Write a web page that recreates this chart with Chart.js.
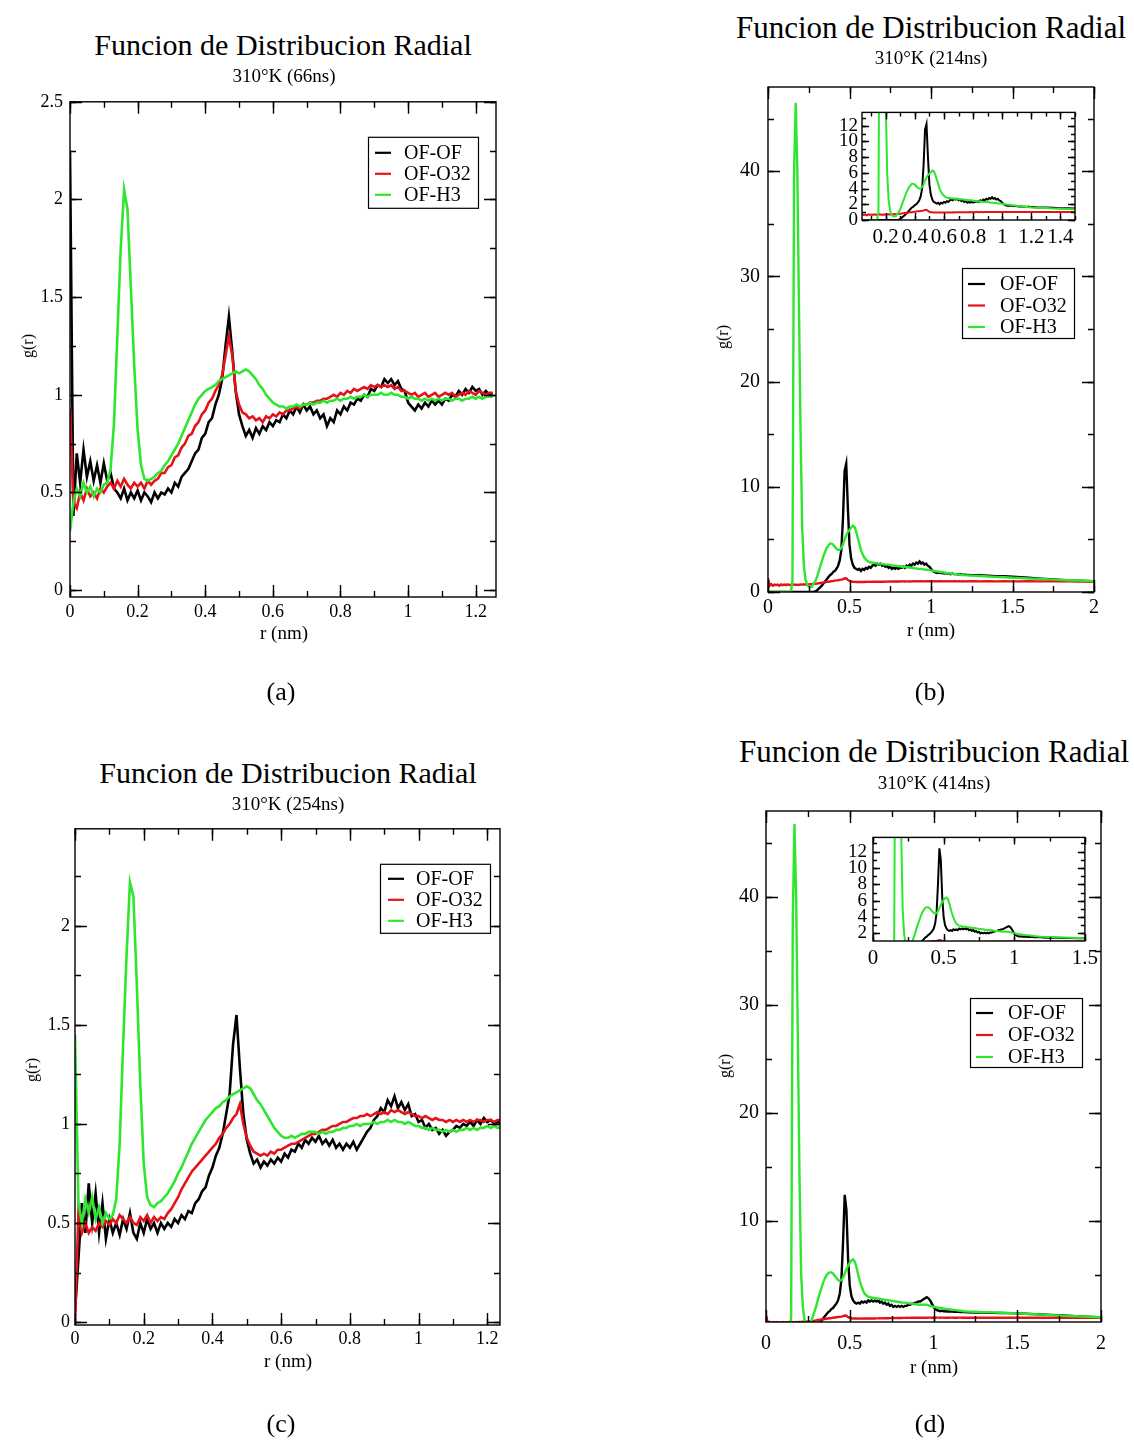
<!DOCTYPE html>
<html>
<head>
<meta charset="utf-8">
<script src="https://cdn.jsdelivr.net/npm/chart.js@4.4.1/dist/chart.umd.min.js"></script>
<style>
  body { margin:0; background:#fff; width:1134px; height:1441px; position:relative; overflow:hidden;
         font-family:"Liberation Serif","Times New Roman",serif; color:#000; }
  canvas { position:absolute; }
  .t { position:absolute; transform:translate(-50%,-50%); white-space:nowrap; line-height:1; }
  .v { transform:translate(-50%,-50%) rotate(-90deg); }
</style>
</head>
<body>
<script>
// ---- data ----
const SERIES = ["OF-OF", "OF-O32", "OF-H3"];

// r grid of panels (a) and (c): 0 .. 1.25 nm every 0.01
const R_AC = [];
for (let i = 0; i <= 125; i++) R_AC.push(i / 100);
// r grid of panels (b) and (d): 0 .. 1.2 every 0.01, then to 2.0 every 0.05
const R_BD = [];
for (let i = 0; i <= 120; i++) R_BD.push(i / 100);
for (let i = 1; i <= 16; i++) R_BD.push(+(1.2 + i * 0.05).toFixed(2));

// (a) 310K, 66 ns
const A_OFOF = [
  2.25,0.38,0.70,0.55,0.72,0.58,0.66,0.56,0.64,0.55,
  0.65,0.56,0.60,0.52,0.50,0.47,0.52,0.46,0.50,0.47,
  0.51,0.46,0.50,0.48,0.45,0.50,0.47,0.50,0.49,0.52,
  0.50,0.55,0.53,0.58,0.60,0.62,0.66,0.70,0.72,0.78,
  0.80,0.86,0.88,0.95,1.00,1.08,1.25,1.40,1.22,1.02,
  0.90,0.84,0.79,0.82,0.78,0.83,0.80,0.84,0.82,0.86,
  0.84,0.87,0.86,0.90,0.88,0.92,0.90,0.94,0.91,0.95,
  0.92,0.94,0.90,0.92,0.88,0.90,0.84,0.88,0.86,0.92,
  0.90,0.94,0.92,0.96,0.95,0.98,0.97,1.00,0.99,1.03,
  1.02,1.05,1.04,1.08,1.06,1.08,1.05,1.07,1.03,1.02,
  0.96,0.94,0.92,0.95,0.93,0.96,0.94,0.97,0.95,0.97,
  0.95,0.98,0.97,1.00,0.99,1.02,1.00,1.03,1.01,1.04,
  1.02,1.03,1.00,1.02,1.00,1.01];
const A_OFO32 = [
  0.93,0.45,0.42,0.50,0.46,0.52,0.48,0.50,0.47,0.52,
  0.50,0.53,0.55,0.52,0.56,0.53,0.57,0.54,0.52,0.55,
  0.53,0.55,0.52,0.56,0.54,0.56,0.57,0.60,0.60,0.63,
  0.64,0.68,0.69,0.73,0.75,0.79,0.80,0.84,0.86,0.90,
  0.92,0.96,0.98,1.02,1.05,1.10,1.20,1.30,1.20,1.02,
  0.95,0.91,0.90,0.88,0.89,0.87,0.88,0.86,0.89,0.88,
  0.90,0.89,0.91,0.90,0.92,0.92,0.93,0.94,0.93,0.95,
  0.95,0.96,0.96,0.97,0.97,0.98,0.98,0.99,1.00,0.99,
  1.01,1.00,1.02,1.01,1.03,1.02,1.03,1.04,1.03,1.05,
  1.04,1.05,1.04,1.05,1.04,1.05,1.03,1.04,1.02,1.02,
  1.01,1.00,1.01,0.99,1.00,1.01,0.99,1.00,1.01,0.99,
  1.00,1.01,1.00,1.01,0.99,1.00,1.01,1.00,1.02,1.01,
  1.00,1.02,1.01,1.00,1.01,1.01];
const A_OFH3 = [
  0.30,0.45,0.52,0.48,0.55,0.50,0.53,0.48,0.52,0.50,
  0.54,0.55,0.62,0.85,1.30,1.75,2.05,1.95,1.55,1.15,
  0.82,0.64,0.57,0.56,0.57,0.58,0.60,0.61,0.64,0.66,
  0.69,0.72,0.75,0.79,0.83,0.87,0.91,0.95,0.98,1.00,
  1.02,1.03,1.04,1.05,1.07,1.08,1.09,1.10,1.11,1.12,
  1.11,1.12,1.13,1.12,1.10,1.08,1.05,1.03,1.00,0.98,
  0.96,0.95,0.94,0.94,0.93,0.94,0.94,0.95,0.94,0.95,
  0.95,0.96,0.95,0.96,0.96,0.97,0.96,0.97,0.97,0.98,
  0.97,0.98,0.98,0.99,0.98,0.99,0.99,1.00,0.99,1.00,
  1.00,1.00,1.01,1.00,1.00,1.01,1.00,1.00,0.99,0.99,
  0.98,0.99,0.98,0.98,0.97,0.98,0.97,0.98,0.97,0.98,
  0.97,0.98,0.98,0.97,0.98,0.98,0.97,0.98,0.98,0.99,
  0.98,0.99,0.98,0.99,0.99,0.99];

// (b) 310K, 214 ns
const B_OFOF = [
  0,0,0,0,0,0,0,0,0,0,
  0,0,0,0,0,0,0,0,0,0,
  0,0,0,0,0,0,0,0,0,0.05,
  0.15,0.30,0.45,0.60,0.80,1.00,1.20,1.40,1.60,1.70,
  1.90,2.00,2.20,2.50,3.00,4.00,7.00,11.50,12.20,8.00,
  4.50,3.20,2.60,2.30,2.20,2.10,2.20,2.00,2.20,2.10,
  2.30,2.20,2.40,2.30,2.50,2.60,2.50,2.70,2.60,2.70,
  2.50,2.60,2.40,2.50,2.30,2.40,2.20,2.30,2.20,2.30,
  2.20,2.30,2.30,2.40,2.30,2.50,2.40,2.60,2.50,2.70,
  2.60,2.80,2.70,2.90,2.70,2.80,2.60,2.70,2.50,2.40,
  2.20,2.00,1.90,1.85,1.80,1.85,1.80,1.80,1.75,1.80,
  1.75,1.75,1.70,1.75,1.70,1.70,1.70,1.65,1.70,1.65,
  1.65,
  1.60,1.60,1.55,1.50,1.50,1.45,1.40,1.35,1.30,1.25,1.20,1.15,1.10,1.08,1.05,1.02];
const B_OFO32 = [
  1.30,0.60,0.75,0.60,0.70,0.65,0.70,0.60,0.72,0.65,
  0.70,0.65,0.72,0.66,0.70,0.68,0.72,0.67,0.70,0.68,
  0.72,0.70,0.73,0.70,0.74,0.72,0.75,0.74,0.77,0.78,
  0.80,0.83,0.85,0.88,0.90,0.93,0.96,0.98,1.00,1.03,
  1.05,1.08,1.10,1.12,1.15,1.18,1.22,1.28,1.30,1.15,
  1.05,1.00,0.98,0.96,0.95,0.95,0.96,0.95,0.96,0.95,
  0.97,0.96,0.97,0.96,0.97,0.97,0.98,0.97,0.98,0.98,
  0.99,0.98,0.99,0.99,1.00,0.99,1.00,1.00,1.01,1.00,
  1.01,1.00,1.01,1.01,1.00,1.01,1.01,1.00,1.01,1.02,
  1.01,1.02,1.01,1.02,1.02,1.01,1.02,1.01,1.02,1.02,
  1.01,1.02,1.01,1.02,1.01,1.02,1.02,1.01,1.02,1.01,
  1.02,1.01,1.02,1.01,1.02,1.02,1.01,1.02,1.01,1.02,
  1.01,
  1.02,1.01,1.02,1.01,1.02,1.01,1.01,1.02,1.01,1.01,1.02,1.01,1.01,1.00,1.01,1.00];
const B_OFH3 = [
  0,0,0,0,0,0,0,0,0,0,
  0,0,0,0,0,1.0,40,46.5,40,27,
  15,6,2.5,1.2,0.7,0.5,0.45,0.5,0.8,1.0,
  1.4,1.9,2.4,2.9,3.4,3.8,4.2,4.4,4.6,4.6,
  4.5,4.3,4.1,4.0,4.0,4.2,4.5,5.0,5.4,5.7,
  5.9,6.1,6.3,6.2,5.8,5.2,4.6,4.0,3.6,3.3,
  3.1,2.95,2.85,2.8,2.8,2.75,2.75,2.7,2.7,2.7,
  2.65,2.65,2.6,2.6,2.6,2.55,2.55,2.5,2.5,2.5,
  2.45,2.45,2.4,2.4,2.4,2.35,2.35,2.3,2.3,2.3,
  2.25,2.25,2.2,2.2,2.2,2.15,2.15,2.1,2.1,2.1,
  2.05,2.0,2.0,1.97,1.95,1.93,1.9,1.88,1.85,1.83,
  1.8,1.78,1.76,1.74,1.72,1.7,1.68,1.66,1.64,1.62,
  1.6,
  1.56,1.52,1.48,1.44,1.4,1.36,1.32,1.28,1.25,1.22,1.18,1.15,1.12,1.09,1.06,1.03];

// (c) 310K, 254 ns
const C_OFOF = [
  0.05,0.32,0.60,0.45,0.70,0.50,0.65,0.45,0.60,0.42,
  0.52,0.45,0.50,0.44,0.52,0.47,0.55,0.45,0.42,0.50,
  0.45,0.52,0.47,0.50,0.45,0.50,0.47,0.50,0.48,0.52,
  0.50,0.54,0.52,0.56,0.55,0.60,0.62,0.66,0.68,0.74,
  0.78,0.84,0.88,0.95,1.05,1.15,1.40,1.55,1.28,1.05,
  0.92,0.85,0.80,0.82,0.78,0.81,0.79,0.82,0.80,0.83,
  0.81,0.85,0.83,0.87,0.86,0.90,0.88,0.92,0.90,0.93,
  0.91,0.94,0.90,0.92,0.89,0.92,0.88,0.90,0.87,0.90,
  0.88,0.91,0.87,0.90,0.93,0.96,0.98,1.02,1.04,1.08,
  1.06,1.12,1.09,1.14,1.08,1.11,1.07,1.10,1.04,1.05,
  1.01,1.02,0.98,1.00,0.97,0.98,0.95,0.97,0.94,0.96,
  0.97,0.99,0.98,1.00,0.99,1.01,0.99,1.02,1.00,1.03,
  1.01,1.02,1.00,1.01,1.00,1.00];
const C_OFO32 = [
  0.00,0.55,0.45,0.50,0.45,0.48,0.46,0.50,0.48,0.51,
  0.49,0.52,0.50,0.54,0.52,0.50,0.53,0.50,0.49,0.53,
  0.51,0.54,0.50,0.53,0.51,0.53,0.52,0.55,0.57,0.60,
  0.63,0.67,0.70,0.73,0.76,0.78,0.80,0.82,0.84,0.86,
  0.88,0.90,0.93,0.95,0.98,1.00,1.03,1.05,1.10,1.00,
  0.93,0.89,0.86,0.85,0.84,0.85,0.84,0.86,0.85,0.87,
  0.87,0.88,0.89,0.90,0.90,0.91,0.92,0.93,0.94,0.95,
  0.95,0.96,0.97,0.97,0.98,0.99,0.99,1.00,1.01,1.01,
  1.02,1.03,1.03,1.04,1.04,1.05,1.04,1.05,1.06,1.05,
  1.06,1.05,1.07,1.06,1.07,1.06,1.05,1.06,1.05,1.04,
  1.04,1.03,1.04,1.03,1.02,1.03,1.02,1.02,1.01,1.02,
  1.01,1.02,1.01,1.02,1.01,1.02,1.01,1.02,1.02,1.01,
  1.02,1.02,1.01,1.02,1.02,1.02];
const C_OFH3 = [
  1.45,0.60,0.50,0.62,0.55,0.63,0.52,0.58,0.50,0.55,
  0.52,0.54,0.62,0.90,1.40,1.85,2.22,2.15,1.70,1.20,
  0.80,0.63,0.59,0.58,0.60,0.61,0.63,0.65,0.68,0.71,
  0.75,0.78,0.82,0.86,0.90,0.93,0.96,0.99,1.02,1.04,
  1.06,1.08,1.09,1.11,1.12,1.14,1.15,1.16,1.17,1.18,
  1.19,1.18,1.15,1.12,1.10,1.07,1.04,1.01,0.98,0.96,
  0.94,0.93,0.93,0.94,0.93,0.94,0.95,0.95,0.96,0.96,
  0.96,0.95,0.96,0.95,0.96,0.96,0.97,0.97,0.98,0.98,
  0.99,0.99,1.00,0.99,1.00,1.00,1.00,1.01,1.00,1.01,
  1.01,1.02,1.01,1.02,1.01,1.01,1.00,1.01,1.00,0.99,
  0.99,0.98,0.98,0.97,0.98,0.97,0.97,0.96,0.97,0.96,
  0.97,0.96,0.97,0.97,0.98,0.97,0.98,0.97,0.98,0.98,
  0.99,0.98,0.99,0.98,0.98,0.98];

// (d) 310K, 414 ns
const D_OFOF = [
  0,0,0,0,0,0,0,0,0,0,
  0,0,0,0,0,0,0,0,0,0,
  0,0,0,0,0,0,0,0,0,0.05,
  0.20,0.35,0.50,0.70,0.90,1.10,1.30,1.50,1.60,1.80,
  1.90,2.10,2.30,2.60,3.20,4.50,8.00,12.40,11.00,6.50,
  4.00,3.00,2.60,2.40,2.30,2.40,2.30,2.50,2.40,2.50,
  2.40,2.60,2.50,2.60,2.50,2.60,2.50,2.60,2.40,2.50,
  2.30,2.40,2.20,2.30,2.10,2.20,2.00,2.10,2.00,2.10,
  2.00,2.10,2.00,2.10,2.10,2.20,2.20,2.30,2.30,2.40,
  2.40,2.50,2.50,2.60,2.70,2.80,2.90,2.80,2.60,2.30,
  2.00,1.80,1.70,1.65,1.60,1.65,1.60,1.60,1.58,1.60,
  1.56,1.58,1.55,1.56,1.54,1.55,1.53,1.54,1.52,1.52,
  1.50,
  1.48,1.47,1.45,1.43,1.42,1.40,1.37,1.33,1.30,1.26,1.22,1.18,1.14,1.10,1.06,1.03];
const D_OFO32 = [
  1.20,0.55,0.62,0.52,0.60,0.55,0.60,0.52,0.58,0.55,
  0.60,0.54,0.58,0.55,0.60,0.56,0.60,0.57,0.60,0.58,
  0.61,0.60,0.62,0.60,0.63,0.64,0.66,0.68,0.70,0.72,
  0.75,0.78,0.80,0.83,0.86,0.88,0.90,0.93,0.95,0.97,
  1.00,1.02,1.04,1.06,1.08,1.10,1.14,1.20,1.18,1.05,
  0.98,0.95,0.93,0.92,0.92,0.91,0.92,0.91,0.92,0.92,
  0.93,0.92,0.93,0.93,0.94,0.93,0.94,0.94,0.95,0.94,
  0.95,0.95,0.96,0.95,0.96,0.96,0.97,0.96,0.97,0.97,
  0.98,0.97,0.98,0.98,0.99,0.98,0.99,0.99,1.00,0.99,
  1.00,1.00,1.00,1.01,1.00,1.01,1.00,1.01,1.01,1.00,
  1.01,1.00,1.01,1.01,1.00,1.01,1.01,1.00,1.01,1.00,
  1.01,1.01,1.00,1.01,1.00,1.01,1.01,1.00,1.01,1.00,
  1.00,
  1.01,1.00,1.01,1.00,1.01,1.00,1.00,1.01,1.00,1.00,1.01,1.00,1.00,1.00,1.00,1.00];
const D_OFH3 = [
  0,0,0,0,0,0,0,0,0,0,
  0,0,0,0,0,1.0,38,46.8,40,27,
  14,5,2,0.8,0.4,0.3,0.4,0.7,1.1,1.6,
  2.1,2.7,3.2,3.7,4.2,4.6,4.9,5.1,5.2,5.2,
  5.1,4.9,4.7,4.5,4.4,4.5,4.7,5.1,5.5,5.8,
  6.1,6.3,6.4,6.2,5.7,5.0,4.4,3.9,3.5,3.2,
  3.05,2.95,2.9,2.85,2.85,2.8,2.8,2.75,2.75,2.7,
  2.7,2.65,2.65,2.6,2.6,2.55,2.55,2.5,2.5,2.45,
  2.45,2.4,2.4,2.4,2.35,2.35,2.3,2.3,2.3,2.25,
  2.25,2.2,2.2,2.2,2.2,2.2,2.2,2.15,2.1,2.05,
  2.0,1.98,1.95,1.92,1.9,1.88,1.85,1.83,1.8,1.78,
  1.76,1.74,1.72,1.7,1.68,1.66,1.64,1.62,1.6,1.59,
  1.58,
  1.55,1.52,1.49,1.46,1.43,1.4,1.36,1.32,1.28,1.24,1.2,1.16,1.13,1.1,1.07,1.04];

// tick labels
const AC_XTICKS = [0, 0.2, 0.4, 0.6, 0.8, 1, 1.2];
const A_YTICKS = [0, 0.5, 1, 1.5, 2, 2.5];
const C_YTICKS = [0, 0.5, 1, 1.5, 2];
const BD_XTICKS = [0, 0.5, 1, 1.5, 2];
const B_YTICKS = [0, 10, 20, 30, 40];
const D_YTICKS = [10, 20, 30, 40];
const BIN_XTICKS = [0.2, 0.4, 0.6, 0.8, 1, 1.2, 1.4];
const BIN_YTICKS = [0, 2, 4, 6, 8, 10, 12];
const DIN_XTICKS = [0, 0.5, 1, 1.5];
const DIN_YTICKS = [2, 4, 6, 8, 10, 12];

// ---- drawing ----
const COLORS = ["#000000", "#e5121a", "#2ee62e"];
Chart.defaults.font.family = '"Liberation Serif","Times New Roman",serif';
Chart.defaults.color = "#000";

// frame, inward ticks on all four sides, boxed legend (xmgrace look)
const frame = {
  id: "frame",
  afterDatasetsDraw(chart, args, o) {
    const { ctx, chartArea: a, scales: { x, y } } = chart;
    ctx.save();
    ctx.strokeStyle = "#000";
    ctx.lineWidth = 1.4;
    ctx.strokeRect(a.left, a.top, a.right - a.left, a.bottom - a.top);
    const marks = (sc, step, len, horiz) => {
      for (let k = Math.ceil(sc.min / step - 1e-6); k * step <= sc.max + 1e-9; k++) {
        const p = Math.round(sc.getPixelForValue(k * step)) + 0.5;
        ctx.beginPath();
        if (horiz) {
          ctx.moveTo(p, a.bottom); ctx.lineTo(p, a.bottom - len);
          ctx.moveTo(p, a.top); ctx.lineTo(p, a.top + len);
        } else {
          ctx.moveTo(a.left, p); ctx.lineTo(a.left + len, p);
          ctx.moveTo(a.right, p); ctx.lineTo(a.right - len, p);
        }
        ctx.stroke();
      }
    };
    marks(x, o.xMinor, o.minorLen, true);
    marks(x, o.xMajor, o.majorLen, true);
    marks(y, o.yMinor, o.minorLen, false);
    marks(y, o.yMajor, o.majorLen, false);

    const L = o.legend;
    if (L) {
      const bx = a.left + L.dx, by = a.top + L.dy;
      ctx.fillStyle = "#fff";
      ctx.fillRect(bx, by, L.w, L.h);
      ctx.lineWidth = 1.2;
      ctx.strokeRect(bx + 0.5, by + 0.5, L.w, L.h);
      ctx.font = L.size + 'px "Liberation Serif","Times New Roman",serif';
      ctx.textBaseline = "middle";
      chart.data.datasets.forEach((ds, i) => {
        const ry = by + L.r0 + i * L.gap;
        ctx.strokeStyle = ds.borderColor;
        ctx.lineWidth = 2.2;
        ctx.beginPath(); ctx.moveTo(bx + L.l0, ry); ctx.lineTo(bx + L.l1, ry); ctx.stroke();
        ctx.fillStyle = "#000";
        ctx.fillText(ds.label, bx + L.tx, ry + 1);
      });
    }
    ctx.restore();
  }
};

function plot(p) {
  const [L, T, R, B] = p.box;
  const w = R - L + p.padL + p.padR, h = B - T + p.padT + p.padB;
  const cv = document.createElement("canvas");
  cv.width = w; cv.height = h;
  cv.style.left = (L - p.padL) + "px";
  cv.style.top = (T - p.padT) + "px";
  document.body.appendChild(cv);
  new Chart(cv, {
    type: "line",
    data: {
      datasets: p.ys.map((ys, i) => ({
        label: SERIES[i],
        data: p.xs.map((r, j) => ({ x: r, y: ys[j] })),
        borderColor: COLORS[i],
        borderWidth: p.lw,
        pointRadius: 0,
        tension: 0,
        order: 3 - i
      }))
    },
    options: {
      responsive: false,
      animation: false,
      events: [],
      layout: { padding: { left: 0, top: p.padT, right: p.padR, bottom: 0 } },
      plugins: {
        legend: { display: false },
        tooltip: { enabled: false },
        frame: Object.assign({ legend: p.legend }, p.tk)
      },
      scales: {
        x: {
          type: "linear", min: p.xr[0], max: p.xr[1],
          grid: { display: false, drawTicks: false }, border: { display: false },
          afterBuildTicks: s => { s.ticks = p.xt.map(v => ({ value: v })); },
          afterFit: s => { s.height = p.padB; },
          ticks: { font: { size: p.fx }, padding: p.px, maxRotation: 0, autoSkip: false, callback: v => String(v) }
        },
        y: {
          type: "linear", min: p.yr[0], max: p.yr[1],
          grid: { display: false, drawTicks: false }, border: { display: false },
          afterBuildTicks: s => { s.ticks = p.yt.map(v => ({ value: v })); },
          afterFit: s => { s.width = p.padL; },
          ticks: { font: { size: p.fy }, padding: p.py, autoSkip: false, callback: v => String(v) }
        }
      }
    },
    plugins: [frame]
  });
}

const MAIN = { padL: 60, padT: 14, padR: 18, padB: 36 };
const INSET = { padL: 34, padT: 12, padR: 18, padB: 30, lw: 2, fx: 21, fy: 19 };
const TK_AC = { xMajor: 0.2, xMinor: 0.1, yMajor: 0.5, yMinor: 0.25, majorLen: 12, minorLen: 6 };
const TK_BD = { xMajor: 0.5, xMinor: 0.25, yMajor: 10, yMinor: 5, majorLen: 12, minorLen: 6 };

plot(Object.assign({}, MAIN, {
  box: [70, 98, 496, 597], xr: [0, 1.26], yr: [-0.035, 2.5], xs: R_AC, ys: [A_OFOF, A_OFO32, A_OFH3],
  xt: AC_XTICKS, yt: A_YTICKS, fx: 18, fy: 18, px: 4, py: 7, tk: TK_AC, lw: 2.6,
  legend: { dx: 298, dy: 35, w: 110, h: 71, l0: 7, l1: 23, tx: 36, r0: 16, gap: 21, size: 20 }
}));
plot(Object.assign({}, MAIN, {
  box: [768, 81, 1094, 592], xr: [0, 2], yr: [0, 48], xs: R_BD, ys: [B_OFOF, B_OFO32, B_OFH3],
  xt: BD_XTICKS, yt: B_YTICKS, fx: 20, fy: 20, px: 4, py: 8, tk: TK_BD, lw: 2.4,
  legend: { dx: 194, dy: 181, w: 112, h: 70, l0: 6, l1: 23, tx: 38, r0: 16, gap: 21.5, size: 20 }
}));
plot(Object.assign({}, MAIN, {
  box: [75, 827, 500, 1325], xr: [0, 1.237], yr: [-0.015, 2.49], xs: R_AC, ys: [C_OFOF, C_OFO32, C_OFH3],
  xt: AC_XTICKS, yt: C_YTICKS, fx: 18, fy: 18, px: 3, py: 5, tk: TK_AC, lw: 2.6,
  legend: { dx: 305, dy: 35, w: 110, h: 69, l0: 8, l1: 24, tx: 36, r0: 15, gap: 21, size: 20 }
}));
plot(Object.assign({}, MAIN, {
  box: [766, 806, 1101, 1322], xr: [0, 2], yr: [0.6, 48], xs: R_BD, ys: [D_OFOF, D_OFO32, D_OFH3],
  xt: BD_XTICKS, yt: D_YTICKS, fx: 20, fy: 20, px: 10, py: 7, tk: TK_BD, lw: 2.4,
  legend: { dx: 204, dy: 187, w: 112, h: 69, l0: 6, l1: 23, tx: 38, r0: 15, gap: 22, size: 20 }
}));
// insets
plot(Object.assign({}, INSET, {
  box: [862, 109, 1075, 220], xr: [0.037, 1.5], yr: [0, 13.7], xs: R_BD, ys: [B_OFOF, B_OFO32, B_OFH3],
  xt: BIN_XTICKS, yt: BIN_YTICKS, px: 5, py: 4,
  tk: { xMajor: 0.2, xMinor: 0.1, yMajor: 2, yMinor: 1, majorLen: 7, minorLen: 4 }
}));
plot(Object.assign({}, INSET, {
  box: [873, 832, 1085, 941], xr: [0, 1.5], yr: [1.07, 13.74], xs: R_BD, ys: [D_OFOF, D_OFO32, D_OFH3],
  xt: DIN_XTICKS, yt: DIN_YTICKS, px: 5, py: 6,
  tk: { xMajor: 0.5, xMinor: 0.25, yMajor: 2, yMinor: 1, majorLen: 7, minorLen: 4 }
}));

// titles, axis names, captions
const TEXTS = [
  ["Funcion de Distribucion Radial", 283, 45, 30], ["310°K (66ns)", 284, 75, 19],
  ["Funcion de Distribucion Radial", 931, 27, 31], ["310°K (214ns)", 931, 57, 19],
  ["Funcion de Distribucion Radial", 288, 773, 30], ["310°K (254ns)", 288, 803, 19],
  ["Funcion de Distribucion Radial", 934, 751, 31], ["310°K (414ns)", 934, 782, 19],
  ["r (nm)", 284, 632, 19], ["r (nm)", 931, 629, 19], ["r (nm)", 288, 1360, 19], ["r (nm)", 934, 1366, 19],
  ["g(r)", 28, 346, 16, 1], ["g(r)", 723, 337, 16, 1], ["g(r)", 32, 1070, 16, 1], ["g(r)", 725, 1066, 16, 1],
  ["(a)", 281, 692, 26], ["(b)", 930, 692, 26], ["(c)", 281, 1424, 26], ["(d)", 930, 1424, 26]
];
TEXTS.forEach(([s, x, y, size, rot]) => {
  const d = document.createElement("div");
  d.className = rot ? "t v" : "t";
  d.textContent = s;
  d.style.left = x + "px"; d.style.top = y + "px"; d.style.fontSize = size + "px";
  document.body.appendChild(d);
});
</script>
</body>
</html>
